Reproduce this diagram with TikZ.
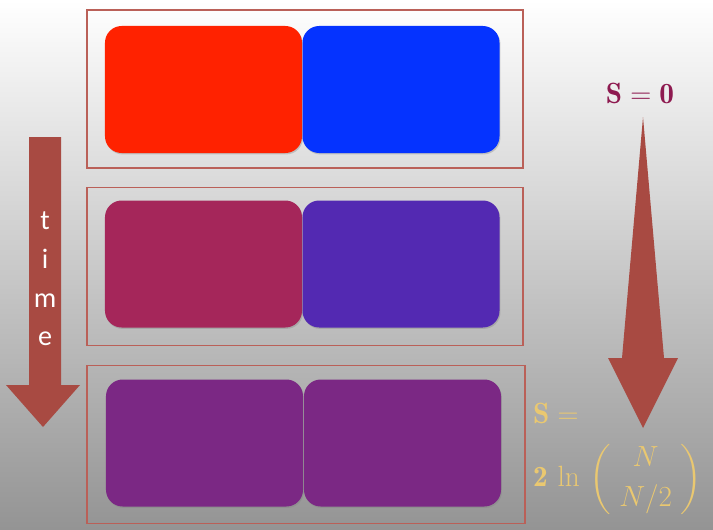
\documentclass[tikz,border=0pt]{standalone}
\usepackage{amsmath,amssymb}
\usepackage{fontspec}
\newfontfamily\timefont{Carlito}
\usetikzlibrary{shadows}

\definecolor{framered}{RGB}{186,96,88}
\definecolor{arrowred}{RGB}{168,74,66}
\definecolor{hotred}{RGB}{255,34,0}
\definecolor{coldblue}{RGB}{5,51,255}
\definecolor{warmmix}{RGB}{165,38,90}
\definecolor{coolmix}{RGB}{83,41,178}
\definecolor{evenmix}{RGB}{123,40,132}
\definecolor{entropymagenta}{RGB}{142,26,80}
\definecolor{entropyyellow}{RGB}{234,200,112}

\begin{document}
\begin{tikzpicture}[
    x=0.03cm, y=-0.03cm,
    frame/.style={rectangle, draw=framered, line width=0.9pt, minimum width=13.08cm, minimum height=4.74cm, inner sep=0pt},
    gasbox/.style={rectangle, rounded corners=0.5cm, minimum width=5.91cm, minimum height=3.81cm, inner sep=0pt,
        drop shadow={opacity=0.35, shadow xshift=0.8pt, shadow yshift=-1.2pt}},
    bigarrow/.style={fill=arrowred},
    entropy/.style={font=\fontsize{25}{30}\selectfont, inner sep=0pt},
]

    % Background
    \shade[top color=white, bottom color=black!42] (0,0) rectangle (713,529);
    \useasboundingbox (0,0) rectangle (713,529);

    % Frames
    \node (frametop) [frame] at (305,89) {};
    \node (framemid) [frame] at (305,266.5) {};
    \node (framebot) [frame, minimum width=13.14cm] at (306,444.5) {};

    % Gas halves
    \node (redbox) [gasbox, fill=hotred] at (203.5,89.5) {};
    \node (bluebox) [gasbox, fill=coldblue] at (401,89.5) {};
    \node (midleft) [gasbox, fill=warmmix] at (203.5,264) {};
    \node (midright) [gasbox, fill=coolmix] at (401,264) {};
    \node (botleft) [gasbox, fill=evenmix] at (204.5,443) {};
    \node (botright) [gasbox, fill=evenmix] at (402.5,443) {};

    % Time arrow
    \fill [bigarrow] (29,137) -- (61,137) -- (61,385) -- (80,385) -- (43,427)
        -- (6,385) -- (29,385) -- cycle;
    \node (timelabel) [text=white, align=center, font=\timefont\fontsize{24}{33}\selectfont] at (45,279) {t\\i\\m\\e};

    % Entropy arrow
    \fill [bigarrow] (643,117) -- (664,358) -- (678,358) -- (643,428)
        -- (608,358) -- (622,358) -- cycle;
    \node (szero) [entropy, text=entropymagenta] at (640,93) {$\mathbf{S}=\mathbf{0}$};
    \node (sfinal) [entropy, text=entropyyellow, anchor=west] at (533,413) {$\mathbf{S}=$};
    \node (sformula) [entropy, text=entropyyellow, anchor=west] at (533,479) {$\displaystyle\mathbf{2}\,\ln\,\binom{\;N\;}{\;N/2\;}$};

\end{tikzpicture}
\end{document}
